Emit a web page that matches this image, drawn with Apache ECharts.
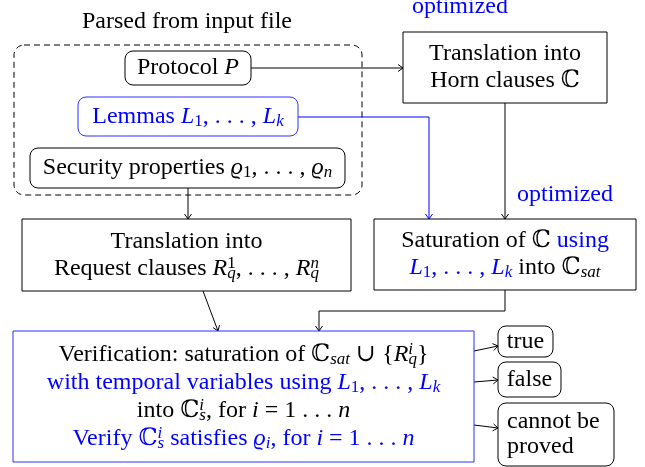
<!DOCTYPE html>
<html>
<head>
<meta charset="utf-8">
<script src="https://cdn.jsdelivr.net/npm/echarts@6/dist/echarts.min.js"></script>
<style>
html, body { margin: 0; padding: 0; background: #fff; }
#main { width: 645px; height: 467px; }
</style>
</head>
<body>
<div id="main"></div>
<script>
// diagram content (pixel space of the 645x467 picture)
var nodeNames = ['protocol', 'lemmas', 'security', 'horn', 'request', 'saturation', 'verification', 'true', 'false', 'cannot'];
var nodeRect = [
    [125, 51, 251, 85], [78, 97, 298, 136], [30, 148, 345, 188],
    [403, 32, 607, 103], [22, 219, 351, 291], [374, 219, 636, 290],
    [13, 331, 474, 462], [498, 326, 553, 357], [498, 362, 561, 397], [498, 403, 614, 466]
];
var nodeKind = ['round', 'roundBlue', 'round', 'box', 'box', 'box', 'boxBlue', 'round', 'round', 'round'];
var nodeLines = [
    ['{n|Protocol }{m|P}'],
    ['{b|Lemmas }{bm|L}{bsn|1}{b|, . . . , }{bm|L}{bsi|k}'],
    ['{n|Security properties }{m|ϱ}{sn|1}{n|, . . . , }{m|ϱ}{si|n}'],
    ['{n|Translation into}', '{n|Horn clauses ℂ}'],
    ['{n|Translation into}', '{n|Request clauses }{m|R}{pn|1}{qi|q}{n|, . . . , }{m|R}{pi|n}{qi|q}'],
    ['{n|Saturation of ℂ }{b|using}', '{bm|L}{bsn|1}{b|, . . . , }{bm|L}{bsi|k}{n| into ℂ}{si|sat}'],
    ['{n|Verification: saturation of ℂ}{si|sat}{n| ∪ {}{m|R}{pi|i}{qi|q}}',
     '{b|with temporal variables using }{bm|L}{bsn|1}{b|, . . . , }{bm|L}{bsi|k}',
     '{n|into ℂ}{pi|i}{qi|s}{n|, for }{m|i}{n| = 1 . . . }{m|n}',
     '{b|Verify ℂ}{bpi|i}{bqi|s}{b| satisfies }{bm|ϱ}{bsi|i}{b|, for }{bm|i}{b| = 1 . . . }{bm|n}'],
    ['{n|true}'],
    ['{n|false}'],
    ['{n|cannot be}', '{n|proved}']
];
var groupRect = [14, 45, 362, 195];
var labelText = ['Parsed from input file', 'optimized', 'optimized'];
var labelPos = [[187, 22], [460, 7], [565, 195]];
var labelBlue = [false, true, true];
var edgePaths = [
    [[251, 68], [403, 68]],
    [[298, 117], [429, 117], [429, 219]],
    [[505, 103], [505, 219]],
    [[188, 188], [188, 219]],
    [[203, 291], [218, 331]],
    [[505, 290], [505, 311], [319, 311], [319, 331]],
    [[474, 351], [498, 346]],
    [[474, 382], [498, 380]],
    [[474, 425], [498, 428]]
];
var edgeBlue = [false, true, false, false, false, false, false, false, false];

var FONT = "'Liberation Serif','DejaVu Serif',serif";
var FS = 24, SS = 17, LH = 27;
var BLUE = '#0000ff';

function tok(fill, italic, size, lh, va, w) {
    var s = { fontSize: size, fontFamily: FONT, fill: fill, lineHeight: lh, fontStyle: italic ? 'italic' : 'normal' };
    if (va) s.verticalAlign = va;
    if (w != null) s.width = w;
    return s;
}
var rich = {
    n: tok('#000', false, FS, LH), m: tok('#000', true, FS, LH),
    b: tok(BLUE, false, FS, LH), bm: tok(BLUE, true, FS, LH),
    sn: tok('#000', false, SS, 17, 'bottom'), si: tok('#000', true, SS, 17, 'bottom'),
    bsn: tok(BLUE, false, SS, 17, 'bottom'), bsi: tok(BLUE, true, SS, 17, 'bottom'),
    qi: tok('#000', true, SS, 13, 'bottom'), bqi: tok(BLUE, true, SS, 13, 'bottom'),
    pn: tok('#000', false, SS, 13, 'top', 0.1), pi: tok('#000', true, SS, 13, 'top', 0.1),
    bpi: tok(BLUE, true, SS, 13, 'top', 0.1)
};

function textStyle(str) {
    return {
        text: str, rich: rich, fontSize: FS, fontFamily: FONT, fill: '#000',
        lineHeight: LH, align: 'left', verticalAlign: 'middle'
    };
}
function lineEl(str, x, y, leftAligned) {
    var st = textStyle(str);
    var w = new echarts.graphic.Text({ style: textStyle(str) }).getBoundingRect().width;
    return { type: 'text', x: leftAligned ? x : x - w / 2, y: y, style: st };
}

var myChart = echarts.init(document.getElementById('main'));

var option = {
    animation: false,
    grid: { left: 0, right: 0, top: 0, bottom: 0 },
    xAxis: { type: 'value', min: 0, max: 645, show: false },
    yAxis: { type: 'value', min: 0, max: 467, inverse: true, show: false },
    series: [
        {
            // dashed group frame
            type: 'custom',
            data: [groupRect],
            renderItem: function (params, api) {
                var a = api.coord([api.value(0), api.value(1)]);
                var b = api.coord([api.value(2), api.value(3)]);
                return {
                    type: 'rect',
                    shape: { x: a[0], y: a[1], width: b[0] - a[0], height: b[1] - a[1], r: 10 },
                    style: { fill: 'none', stroke: '#000', lineWidth: 1, lineDash: [6, 4] }
                };
            }
        },
        {
            // edges
            type: 'custom',
            data: edgePaths.map(function (p, i) { return [p[0][0], p[0][1], i]; }),
            renderItem: function (params, api) {
                var i = params.dataIndex;
                var pts = edgePaths[i].map(function (p) { return api.coord(p); });
                var col = edgeBlue[i] ? BLUE : '#000';
                var e = pts[pts.length - 1], s = pts[pts.length - 2];
                var dx = e[0] - s[0], dy = e[1] - s[1], len = Math.sqrt(dx * dx + dy * dy);
                dx /= len; dy /= len;
                var head = [
                    [e[0] - 5 * dx + 3.5 * dy, e[1] - 5 * dy - 3.5 * dx],
                    [e[0], e[1]],
                    [e[0] - 5 * dx - 3.5 * dy, e[1] - 5 * dy + 3.5 * dx]
                ];
                var st = { fill: 'none', stroke: col, lineWidth: 1 };
                return {
                    type: 'group',
                    children: [
                        { type: 'polyline', shape: { points: pts }, style: st },
                        { type: 'polyline', shape: { points: head }, style: st }
                    ]
                };
            }
        },
        {
            // nodes
            type: 'custom',
            data: nodeRect,
            renderItem: function (params, api) {
                var i = params.dataIndex;
                var a = api.coord([api.value(0), api.value(1)]);
                var b = api.coord([api.value(2), api.value(3)]);
                var kind = nodeKind[i];
                var kids = [{
                    type: 'rect',
                    shape: { x: a[0], y: a[1], width: b[0] - a[0], height: b[1] - a[1], r: kind.indexOf('round') === 0 ? 8 : 0 },
                    style: { fill: '#fff', stroke: kind.indexOf('Blue') > 0 ? '#2f2fff' : '#000', lineWidth: 1 }
                }];
                var lines = nodeLines[i];
                var lh = nodeNames[i] === 'verification' ? 28 : (nodeNames[i] === 'cannot' ? 25 : LH);
                var cx = (a[0] + b[0]) / 2, cy = (a[1] + b[1]) / 2;
                var left = nodeNames[i] === 'cannot';
                lines.forEach(function (ln, k) {
                    var y = cy + (k - (lines.length - 1) / 2) * lh;
                    kids.push(lineEl(ln, left ? a[0] + 9 : cx, y, left));
                });
                return { type: 'group', children: kids };
            }
        },
        {
            // free labels
            type: 'custom',
            data: labelPos,
            renderItem: function (params, api) {
                var i = params.dataIndex;
                var p = api.coord([api.value(0), api.value(1)]);
                var str = labelBlue[i] ? '{b|' + labelText[i] + '}' : '{n|' + labelText[i] + '}';
                return lineEl(str, p[0], p[1], false);
            }
        }
    ]
};
myChart.setOption(option, true);
</script>
</body>
</html>
